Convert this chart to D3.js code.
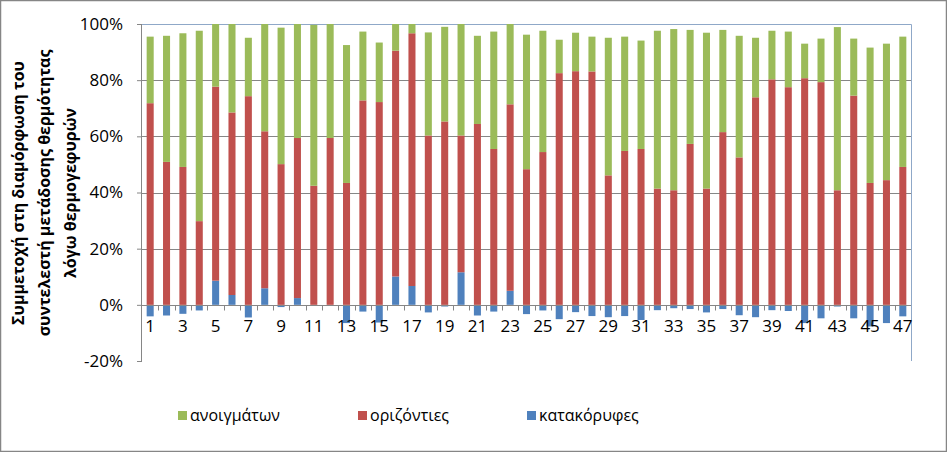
<!DOCTYPE html>
<html>
<head>
<meta charset="utf-8">
<script src="https://cdn.jsdelivr.net/npm/d3@7"></script>
<style>
  html, body { margin: 0; padding: 0; background: #fff; }
  svg { display: block; }
  text { font-family: "Open Sans", "Noto Sans", sans-serif; }
</style>
</head>
<body>
<svg id="chart" width="947" height="452"></svg>
<script>
// ---- data ----
const categories = d3.range(1, 48).map(String);
const seriesNames = ["ανοιγμάτων", "οριζόντιες", "κατακόρυφες"];
// κατακόρυφες (vertical), % share
const vertical = [-4.1, -3.8, -3.2, -2.0, 8.6, 3.5, -4.5, 5.9, -0.8, 2.4,
  0, 0, -6.5, -2.4, -6.3, 10.1, 6.7, -2.7, -0.6, 11.6,
  -3.8, -2.4, 5.0, -3.3, -2.0, -5.1, -2.6, -4.0, -4.4, -4.0,
  -5.4, -1.9, -1.2, -1.5, -2.7, -1.5, -3.7, -4.4, -1.9, -2.2,
  -6.5, -4.8, -0.6, -4.8, -7.7, -6.5, -4.1];
// οριζόντιες (horizontal), % share
const horizontal = [71.8, 50.9, 49.1, 29.8, 69.1, 65.0, 74.3, 55.9, 50.1, 57.0,
  42.4, 59.4, 43.4, 72.8, 72.2, 80.4, 90.0, 60.3, 65.3, 48.7,
  64.4, 55.5, 66.4, 48.3, 54.4, 82.5, 83.2, 83.1, 46.1, 54.8,
  55.5, 41.4, 40.8, 57.3, 41.4, 61.5, 52.5, 73.9, 80.3, 77.5,
  80.7, 79.3, 40.8, 74.5, 43.4, 44.4, 49.1];
// ανοιγμάτων (openings), % share
const openings = [23.7, 44.9, 47.6, 67.8, 22.3, 31.5, 20.8, 38.2, 48.6, 40.6,
  57.3, 40.6, 49.1, 24.5, 21.2, 9.5, 3.3, 36.7, 33.7, 39.7,
  31.4, 41.8, 28.6, 47.9, 43.2, 11.9, 13.7, 12.4, 49.0, 40.7,
  38.6, 56.2, 57.4, 40.6, 55.5, 36.4, 43.3, 21.2, 17.3, 19.8,
  12.3, 15.5, 58.1, 20.3, 48.2, 48.6, 46.4];
const yTicks = [-20, 0, 20, 40, 60, 80, 100];
const yTitleLines = ["Συμμετοχή στη διαμόρφωση του", "συντελεστή μετάδοσης θερμότητας", "λόγω θερμογεφυρών"];
const colors = { "ανοιγμάτων": "#9BBB59", "οριζόντιες": "#C0504D", "κατακόρυφες": "#4F81BD" };

// ---- layout ----
const svg = d3.select("#chart");
const W = 947, H = 452;
const plot = { left: 142, right: 911, top: 24, bottom: 361 };

svg.append("rect").attr("x", 0.5).attr("y", 0.5).attr("width", W - 1).attr("height", H - 1)
  .attr("fill", "#fff").attr("stroke", "#868686").attr("stroke-width", 1.5);

const x = d3.scaleBand().domain(categories).range([plot.left, plot.right]).paddingInner(0).paddingOuter(0);
const y = d3.scaleLinear().domain([-20, 100]).range([plot.bottom, plot.top]);
const barW = x.bandwidth() * 0.43;

// gridlines
svg.append("g").selectAll("line").data(yTicks.filter(t => t > 0 && t < 100)).join("line")
  .attr("x1", plot.left).attr("x2", plot.right)
  .attr("y1", d => Math.round(y(d)) + 0.5).attr("y2", d => Math.round(y(d)) + 0.5)
  .attr("stroke", "#868686").attr("stroke-width", 1);

// plot border (top & right)
svg.append("path")
  .attr("d", `M${plot.left},${Math.round(y(100)) + 0.5}H${plot.right + 0.5}V${plot.bottom}`)
  .attr("fill", "none").attr("stroke", "#8FA8C8").attr("stroke-width", 1);

// stacked bars
const clip = svg.append("clipPath").attr("id", "pc").append("rect")
  .attr("x", plot.left).attr("y", y(100)).attr("width", plot.right - plot.left).attr("height", plot.bottom - y(100));
const rows = categories.map((c, i) => {
  const b = vertical[i], r = horizontal[i], g = openings[i];
  const base = b > 0 ? b : 0;
  return [
    { c, key: "κατακόρυφες", y0: 0, y1: b },
    { c, key: "οριζόντιες", y0: base, y1: base + r },
    { c, key: "ανοιγμάτων", y0: base + r, y1: base + r + g }
  ];
}).flat();
svg.append("g").attr("clip-path", "url(#pc)").selectAll("rect").data(rows).join("rect")
  .attr("x", d => x(d.c) + x.bandwidth() / 2 - barW / 2)
  .attr("width", barW)
  .attr("y", d => y(Math.max(d.y0, d.y1)))
  .attr("height", d => Math.abs(y(d.y0) - y(d.y1)))
  .attr("fill", d => colors[d.key]);

// y axis
const yAxis = svg.append("g").attr("transform", `translate(${plot.left},0)`)
  .call(d3.axisLeft(y).tickValues(yTicks).tickSize(5).tickPadding(14).tickFormat(d => d + "%"));
yAxis.select(".domain").attr("stroke", "#868686").attr("d", `M-0.5,${plot.top}V${plot.bottom}`);
yAxis.selectAll(".tick line").attr("stroke", "#868686");
yAxis.selectAll(".tick text").attr("font-size", "17px").attr("fill", "#000")
  .attr("font-family", "'Open Sans', sans-serif");

// x axis at zero
const xAxis = svg.append("g").attr("transform", `translate(0,${Math.round(y(0)) + 0.5})`)
  .call(d3.axisBottom(x).tickSize(0).tickPadding(14)
    .tickFormat((d, i) => (i % 2 === 0 ? d : "")));
xAxis.select(".domain").attr("stroke", "#868686").attr("d", `M${plot.left},0H${plot.right}`);
xAxis.selectAll(".tick text").attr("font-size", "17px").attr("fill", "#000")
  .attr("font-family", "'Open Sans', sans-serif");
// category boundary tick marks
xAxis.append("g").selectAll("line").data(categories.slice(1)).join("line")
  .attr("x1", d => Math.round(x(d)) + 0.5).attr("x2", d => Math.round(x(d)) + 0.5)
  .attr("y1", 0).attr("y2", 5).attr("stroke", "#868686");

// y title
const title = svg.append("text").attr("transform", "translate(18,193) rotate(-90)")
  .attr("text-anchor", "middle").attr("font-weight", "bold").attr("font-size", "16px").attr("fill", "#000");
yTitleLines.forEach((t, i) => {
  title.append("tspan").attr("x", 0).attr("y", i * 26 + 6).text(t);
});

// legend
const legendX = [178, 358, 527];
const lg = svg.append("g");
seriesNames.forEach((n, i) => {
  const g = lg.append("g").attr("transform", `translate(${legendX[i]},411)`);
  g.append("rect").attr("width", 9).attr("height", 9).attr("fill", colors[n]);
  g.append("text").attr("x", 12).attr("y", 4.5).attr("dy", "0.35em")
    .attr("font-size", "16px").attr("fill", "#000").text(n);
});
</script>
</body>
</html>
